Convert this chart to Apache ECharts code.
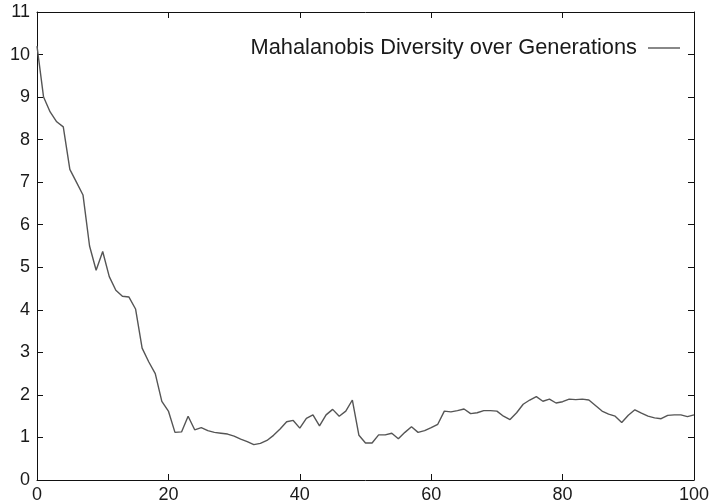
<!DOCTYPE html>
<html>
<head>
<meta charset="utf-8">
<script src="https://cdn.jsdelivr.net/npm/echarts@6/dist/echarts.min.js"></script>
<style>html,body{margin:0;padding:0;background:#fff}#c{width:714px;height:504px}</style>
</head>
<body>
<div id="c"></div>
<script>
var seriesName = 'Mahalanobis Diversity over Generations';
var diversity = [
  10.2, 9.0, 8.65, 8.42, 8.3, 7.3, 7.0, 6.7, 5.5, 4.93,
  5.37, 4.78, 4.46, 4.32, 4.3, 4.02, 3.1, 2.78, 2.5, 1.85,
  1.62, 1.12, 1.13, 1.5, 1.18, 1.23, 1.16, 1.12, 1.1, 1.08,
  1.03, 0.96, 0.9, 0.83, 0.86, 0.93, 1.05, 1.2, 1.37, 1.4,
  1.22, 1.45, 1.53, 1.27, 1.53, 1.66, 1.5, 1.62, 1.88, 1.05,
  0.87, 0.87, 1.06, 1.06, 1.1, 0.97, 1.12, 1.25, 1.12, 1.16,
  1.23, 1.31, 1.62, 1.6, 1.63, 1.67, 1.56, 1.58, 1.63, 1.63,
  1.62, 1.5, 1.42, 1.58, 1.78, 1.88, 1.96, 1.85, 1.9, 1.81,
  1.84, 1.9, 1.89, 1.9, 1.88, 1.75, 1.62, 1.55, 1.5, 1.35,
  1.52, 1.65, 1.57, 1.5, 1.46, 1.44, 1.52, 1.53, 1.53, 1.49,
  1.53
];
var xMin = 0, xMax = 100, xStep = 20;
var yMin = 0, yMax = 11, yStep = 1;

var points = diversity.map(function (v, i) { return [i, v]; });

var font = '"Liberation Sans", Arial, Helvetica, sans-serif';
var axisLine = { show: true, onZero: false, lineStyle: { color: '#111', width: 1 } };
var tick = { show: true, inside: true, length: 6, lineStyle: { color: '#111', width: 1 } };
var label = { color: '#1a1a1a', fontFamily: font, fontSize: 18 };

var chart = echarts.init(document.getElementById('c'), null, { renderer: 'canvas' });
chart.setOption({
  animation: false,
  backgroundColor: '#fff',
  grid: { left: 37, right: 20, top: 12, bottom: 23, containLabel: false },
  legend: {
    right: 29, top: 32,
    align: 'right',
    itemWidth: 32, itemHeight: 2,
    itemGap: 10,
    icon: 'rect',
    textStyle: { color: '#1a1a1a', fontFamily: font, fontSize: 21.8, padding: [0, 6, 0, 0] },
    data: [{ name: seriesName, itemStyle: { color: '#888' } }]
  },
  xAxis: [
    { type: 'value', min: xMin, max: xMax, interval: xStep, position: 'bottom',
      axisLine: axisLine, axisTick: tick, splitLine: { show: false },
      axisLabel: Object.assign({ margin: 6 }, label) },
    { type: 'value', min: xMin, max: xMax, interval: xStep, position: 'top',
      axisLine: axisLine, axisTick: tick, splitLine: { show: false },
      axisLabel: { show: false } }
  ],
  yAxis: [
    { type: 'value', min: yMin, max: yMax, interval: yStep, position: 'left',
      axisLine: axisLine, axisTick: tick, splitLine: { show: false },
      axisLabel: Object.assign({ margin: 7 }, label) },
    { type: 'value', min: yMin, max: yMax, interval: yStep, position: 'right',
      axisLine: axisLine, axisTick: tick, splitLine: { show: false },
      axisLabel: { show: false } }
  ],
  series: [{
    name: seriesName,
    type: 'line',
    data: points,
    showSymbol: false,
    symbol: 'none',
    lineStyle: { color: '#555', width: 1.4 },
    itemStyle: { color: '#555' }
  }]
});
</script>
</body>
</html>
